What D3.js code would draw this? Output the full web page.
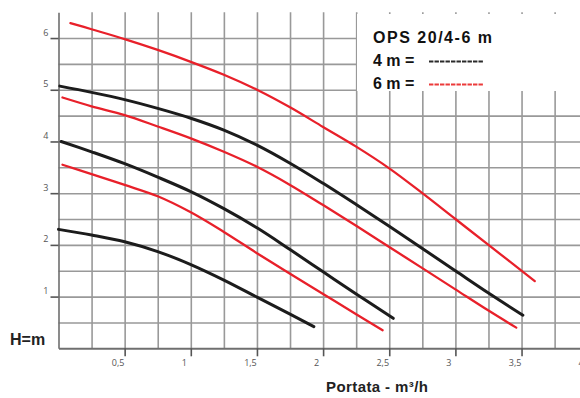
<!DOCTYPE html>
<html>
<head>
<meta charset="utf-8">
<script src="https://cdn.jsdelivr.net/npm/d3@7"></script>
<style>
  html, body { margin: 0; padding: 0; background: #fff; }
  svg { display: block; }
</style>
</head>
<body>
<svg id="chart" width="580" height="398"></svg>
<script>
// Pump curves OPS 20/4-6 m: head H (m) against flow Q (m³/h), three speeds per model.
// 4 m model (black)
const curve4mSpeed1 = [[0,2.30],[0.25,2.19],[0.5,2.06],[0.75,1.87],[1.0,1.62],[1.25,1.32],[1.5,0.99],[1.75,0.66],[1.93,0.42]];
const curve4mSpeed2 = [[0.02,4.0],[0.25,3.80],[0.5,3.57],[0.75,3.31],[1.0,3.03],[1.25,2.70],[1.5,2.33],[1.75,1.91],[2.0,1.48],[2.25,1.05],[2.53,0.58]];
const curve4mSpeed3 = [[0.01,5.07],[0.25,4.95],[0.5,4.81],[0.75,4.64],[1.0,4.45],[1.25,4.22],[1.5,3.93],[1.75,3.58],[2.0,3.19],[2.25,2.78],[2.5,2.36],[2.75,1.93],[3.0,1.50],[3.25,1.07],[3.51,0.64]];
// 6 m model (red)
const curve6mSpeed1 = [[0.03,3.55],[0.25,3.37],[0.5,3.16],[0.75,2.94],[1.0,2.63],[1.25,2.25],[1.5,1.84],[1.75,1.44],[2.0,1.05],[2.25,0.66],[2.45,0.35]];
const curve6mSpeed2 = [[0.03,4.85],[0.25,4.68],[0.5,4.51],[0.75,4.29],[1.0,4.06],[1.25,3.80],[1.5,3.51],[1.75,3.16],[2.0,2.77],[2.25,2.37],[2.5,1.96],[2.75,1.55],[3.0,1.14],[3.25,0.73],[3.46,0.40]];
const curve6mSpeed3 = [[0.09,6.29],[0.25,6.17],[0.5,5.98],[0.75,5.77],[1.0,5.54],[1.25,5.29],[1.5,5.0],[1.75,4.66],[2.0,4.28],[2.25,3.90],[2.5,3.48],[2.75,3.0],[3.0,2.5],[3.25,2.0],[3.6,1.30]];

const xTicks = [0.5, 1, 1.5, 2, 2.5, 3, 3.5, 4];
const xTickLabels = ["0,5", "1", "1,5", "2", "2,5", "3", "3,5", "4"];
const yTicks = [1, 2, 3, 4, 5, 6];
const yTickLabels = ["1", "2", "3", "4", "5", "6"];
const xGrid = [0.25, 0.5, 0.75, 1, 1.25, 1.5, 1.75, 2, 2.25, 2.5, 2.75, 3, 3.25, 3.5, 3.75, 4];
const yGrid = [0.5, 1, 1.5, 2, 2.5, 3, 3.5, 4, 4.5, 5, 5.5, 6];

const legendTitle = "OPS 20/4-6 m";
const legendRows = [
  { label: "4 m = ", color: "#2a2a2a" },
  { label: "6 m = ", color: "#ec3a3a" }
];

const svg = d3.select("#chart");
const x = d3.scaleLinear().domain([0, 4]).range([58.5, 587.7]);
const y = d3.scaleLinear().domain([0, 6.5]).range([348.3, 12.2]);

// grid
const xGridAxis = d3.axisBottom(x).tickValues(xGrid).tickSize(-(y(0) - y(6.5))).tickFormat("").tickSizeOuter(0);
const gxg = svg.append("g").attr("transform", `translate(0,${y(0)})`).call(xGridAxis);
gxg.select(".domain").remove();
gxg.selectAll(".tick line").attr("stroke", "#999").attr("stroke-width", 1.6);
const yGridAxis = d3.axisLeft(y).tickValues(yGrid).tickSize(-(580 - x(0))).tickFormat("").tickSizeOuter(0);
const gyg = svg.append("g").attr("transform", `translate(${x(0)},0)`).call(yGridAxis);
gyg.select(".domain").remove();
gyg.selectAll(".tick line").attr("stroke", "#999").attr("stroke-width", 1.6);

// legend backdrop
svg.append("rect").attr("x", 357).attr("y", 14).attr("width", 223).attr("height", 77).attr("fill", "#fff");

// axes
const xAxis = d3.axisBottom(x).tickValues(xTicks)
  .tickFormat((d, i) => xTickLabels[i]).tickSize(8).tickSizeOuter(0);
const gx = svg.append("g").attr("transform", `translate(0,${y(0)})`).call(xAxis);
gx.select(".domain").attr("stroke", "#6f6f6f").attr("stroke-width", 2);
gx.selectAll(".tick line").attr("stroke", "#555").attr("stroke-width", 1.6);
gx.selectAll(".tick text").attr("dx", -7).attr("dy", 10).attr("y", 8)
  .attr("fill", "#555").attr("font-size", 9).attr("font-family", "'Open Sans', sans-serif");

const yAxis = d3.axisLeft(y).tickValues(yTicks)
  .tickFormat((d, i) => yTickLabels[i]).tickSize(8).tickSizeOuter(0);
const gy = svg.append("g").attr("transform", `translate(${x(0)},0)`).call(yAxis);
gy.select(".domain").attr("stroke", "#6f6f6f").attr("stroke-width", 1.6);
gy.selectAll(".tick line").attr("stroke", "#555").attr("stroke-width", 1.6);
gy.selectAll(".tick text").attr("x", -10).attr("dy", -3)
  .attr("fill", "#555").attr("font-size", 9).attr("font-family", "'Open Sans', sans-serif");

// curves
const line = d3.line().x(d => x(d[0])).y(d => y(d[1])).curve(d3.curveCatmullRom.alpha(0.5));
const curves = [
  { data: curve4mSpeed1, color: "#1c1c1c", width: 3 },
  { data: curve4mSpeed2, color: "#1c1c1c", width: 3 },
  { data: curve4mSpeed3, color: "#1c1c1c", width: 3 },
  { data: curve6mSpeed1, color: "#e8202a", width: 2.3 },
  { data: curve6mSpeed2, color: "#e8202a", width: 2.3 },
  { data: curve6mSpeed3, color: "#e8202a", width: 2.3 }
];
svg.append("g").selectAll("path").data(curves).join("path")
  .attr("d", d => line(d.data))
  .attr("fill", "none")
  .attr("stroke", d => d.color)
  .attr("stroke-width", d => d.width)
  .attr("stroke-linecap", "round");

// axis titles
svg.append("text").attr("x", 10).attr("y", 345).text("H=m")
  .attr("font-family", "'Liberation Sans', Arial, sans-serif").attr("font-weight", "bold")
  .attr("font-size", 16).attr("fill", "#222");
svg.append("text").attr("x", 326).attr("y", 392).text("Portata - m³/h")
  .attr("font-family", "'Liberation Sans', Arial, sans-serif").attr("font-weight", "bold")
  .attr("font-size", 15).attr("fill", "#222").attr("textLength", 102);

// legend
const legend = svg.append("g")
  .attr("font-family", "'Liberation Sans', Arial, sans-serif").attr("fill", "#111");
legend.append("text").attr("x", 373).attr("y", 43).text(legendTitle)
  .attr("font-weight", "bold").attr("font-size", 16).attr("textLength", 119);
legendRows.forEach((r, i) => {
  const base = 66 + i * 23;
  legend.append("text").attr("x", 373).attr("y", base).text(r.label)
    .attr("font-weight", "bold").attr("font-size", 16);
  legend.append("line")
    .attr("x1", 429).attr("x2", 484).attr("y1", base - 4.5).attr("y2", base - 4.5)
    .attr("stroke", r.color).attr("stroke-width", 1.8).attr("stroke-dasharray", "4.4,1.1");
});
</script>
</body>
</html>
